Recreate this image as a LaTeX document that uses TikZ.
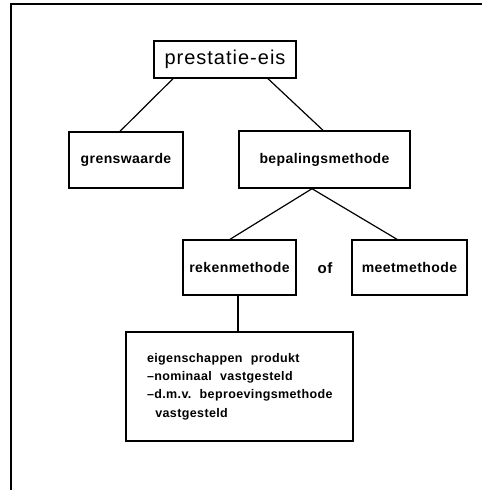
\documentclass[tikz,border=0pt]{standalone}
\usepackage{fontspec}
\newfontfamily\lblfont[LetterSpace=3,Ligatures=TeX]{Liberation Sans}
\newfontfamily\titlefont[LetterSpace=5]{Liberation Sans}
\begin{document}
\begin{tikzpicture}[x=1pt,y=-1pt,
  box/.style={draw,line width=1.4pt,inner sep=0pt,align=center},
  lbl/.style={font=\lblfont\bfseries\fontsize{14}{16}\selectfont},
  conn/.style={line width=1.2pt}]
\useasboundingbox (0,0) rectangle (482,490);
\draw[line width=1.8pt] (11,490) -- (11,4) -- (482,4);
\node[box,minimum width=142pt,minimum height=37pt,font=\titlefont\fontsize{20}{24}\selectfont] (pe) at (225,59.5) {prestatie-eis};
\node[box,lbl,minimum width=114pt,minimum height=56pt] (gw) at (126,160) {grenswaarde};
\node[box,lbl,minimum width=171pt,minimum height=57pt] (bm) at (324.5,159.5) {bepalingsmethode};
\node[box,lbl,minimum width=113pt,minimum height=55pt] (rk) at (239.5,267.5) {rekenmethode};
\node[box,lbl,minimum width=115pt,minimum height=55pt] (mm) at (409.5,267.5) {meetmethode};
\node[font=\lblfont\bfseries\fontsize{15}{16}\selectfont] (of) at (325,268) {of};
\node[draw,line width=1.4pt,minimum width=227pt,minimum height=109pt,text width=185pt,inner xsep=21pt,inner ysep=0pt,align=left,font=\lblfont\bfseries\fontsize{12.5}{18.3}\selectfont] (eig) at (239.5,386.5)
  {\mbox{eigenschappen\ \ produkt}\\\mbox{\textendash nominaal\ \ vastgesteld}\\\mbox{\textendash d.m.v.\ \ beproevingsmethode}\\\mbox{\ \ vastgesteld}};
\draw[conn] ([xshift=-52pt]pe.south) -- ([xshift=-6pt]gw.north);
\draw[conn] ([xshift=43pt]pe.south) -- ([xshift=-1.5pt]bm.north);
\draw[conn] ([xshift=-12.5pt]bm.south) -- ([xshift=-9.5pt]rk.north);
\draw[conn] ([xshift=-12.5pt]bm.south) -- ([xshift=-12.5pt]mm.north);
\draw[conn] ([xshift=-1.5pt]rk.south) -- ([xshift=-1.5pt]rk.south |- eig.north);
\end{tikzpicture}
\end{document}
